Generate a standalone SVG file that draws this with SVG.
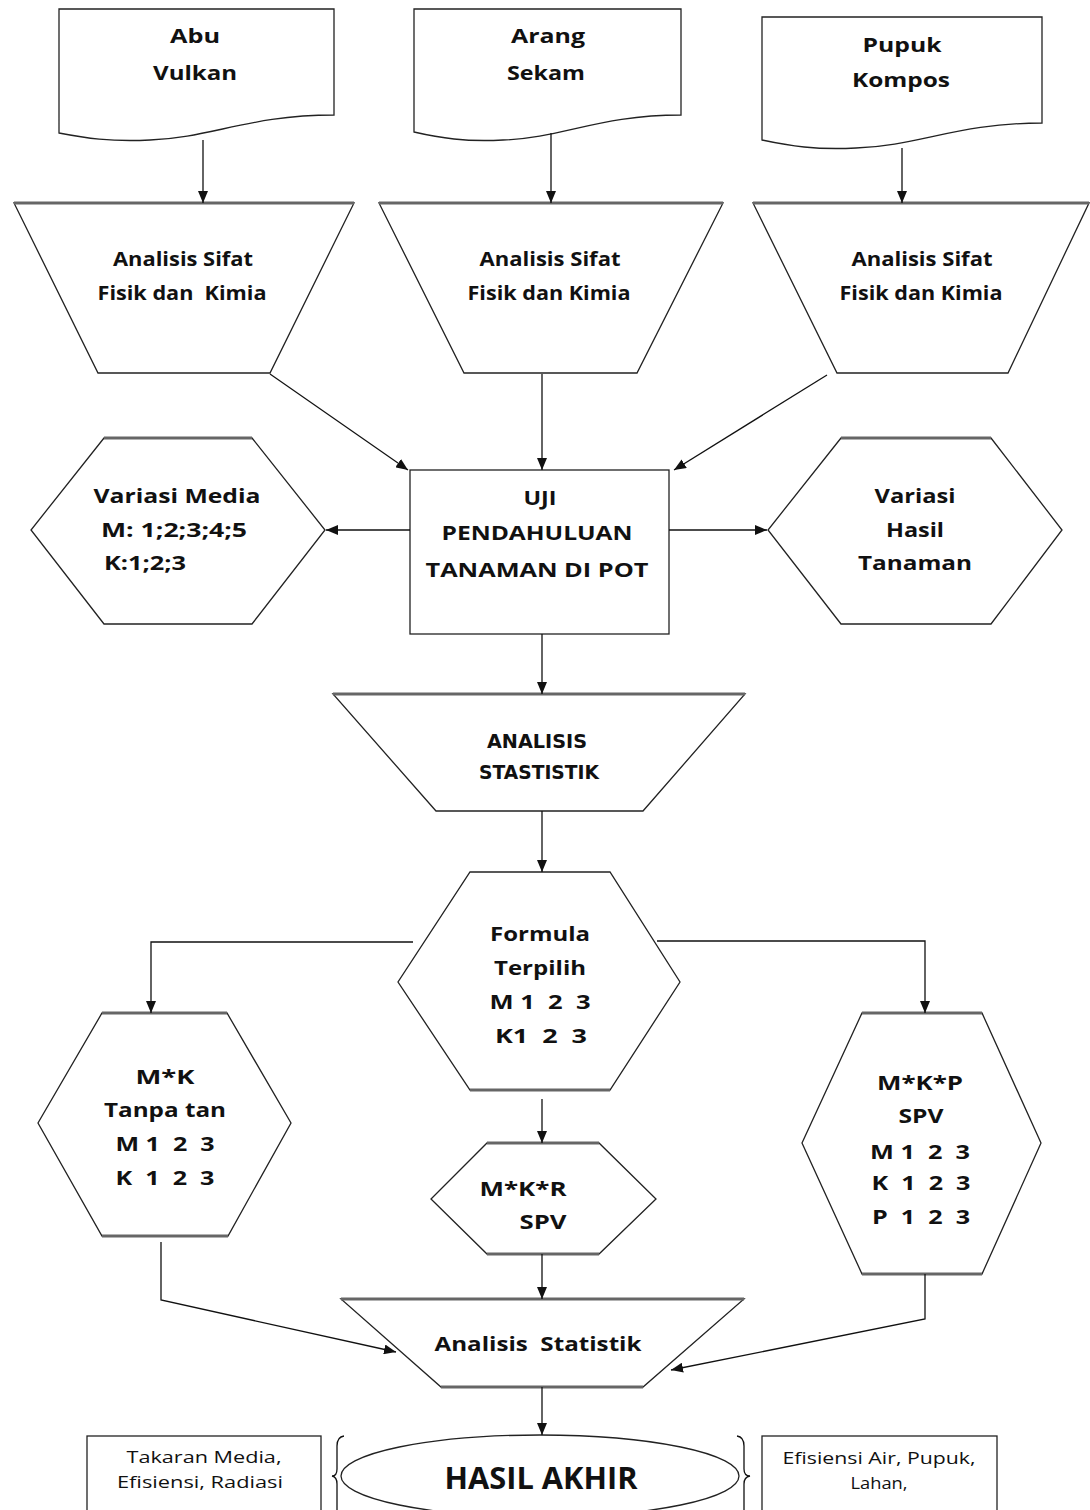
<svg xmlns="http://www.w3.org/2000/svg" width="1090" height="1510" viewBox="0 0 1090 1510">
<style>
.s{fill:#fff;stroke:#222;stroke-width:1.3}
.tp{fill:none;stroke:#666;stroke-width:3}
.t{font-family:"Open Sans","Liberation Sans",Arial,sans-serif;font-weight:700;font-size:20px;fill:#111;text-anchor:middle}
.ts{text-anchor:start}
.v{font-family:"DejaVu Sans","Verdana",sans-serif;font-weight:700;font-size:19px;fill:#111;text-anchor:middle}
.n{font-family:"Open Sans","Liberation Sans",Arial,sans-serif;font-weight:400;font-size:17px;fill:#111;text-anchor:middle}
.h{font-family:"Open Sans","Liberation Sans",Arial,sans-serif;font-weight:700;font-size:31px;fill:#111;text-anchor:middle}
.c{fill:none;stroke:#111;stroke-width:1.3}
</style>
<defs>
<marker id="ah" viewBox="0 0 12 10" refX="12" refY="5" markerWidth="12" markerHeight="10" markerUnits="userSpaceOnUse" orient="auto">
<path d="M0,0 L12,5 L0,10 Z" fill="#111"/>
</marker>
</defs>
<rect width="1090" height="1510" fill="#fff"/>

<g id="doc-abu">
<path class="s" d="M59,9 H334 V115 C250,115 210,138 150,140 C110,142 85,138 59,133 Z"/>
<text class="t" x="195" y="43" textLength="50" lengthAdjust="spacingAndGlyphs">Abu</text>
<text class="t" x="195" y="80" textLength="84" lengthAdjust="spacingAndGlyphs">Vulkan</text>
</g>
<g id="doc-arang">
<path class="s" d="M414,9 H681 V115 C600,115 562,138 503,140 C465,142 440,138 414,132 Z"/>
<text class="t" x="548" y="43" textLength="74" lengthAdjust="spacingAndGlyphs">Arang</text>
<text class="t" x="546" y="80" textLength="78" lengthAdjust="spacingAndGlyphs">Sekam</text>
</g>
<g id="doc-pupuk">
<path class="s" d="M762,17 H1042 V123 C958,123 918,146 856,148 C815,150 790,146 762,140 Z"/>
<text class="t" x="902" y="52" textLength="79" lengthAdjust="spacingAndGlyphs">Pupuk</text>
<text class="t" x="901" y="87" textLength="98" lengthAdjust="spacingAndGlyphs">Kompos</text>
</g>

<g id="trap-1">
<path class="s" d="M14,203 H354 L270,373 H98 Z"/>
<line class="tp" x1="14" y1="203" x2="354" y2="203"/>
<text class="t" x="183" y="266" textLength="140" lengthAdjust="spacingAndGlyphs">Analisis Sifat</text>
<text class="t" x="182" y="300" textLength="169" lengthAdjust="spacingAndGlyphs" xml:space="preserve">Fisik dan  Kimia</text>
</g>
<g id="trap-2">
<path class="s" d="M379,203 H723 L637,373 H464 Z"/>
<line class="tp" x1="379" y1="203" x2="723" y2="203"/>
<text class="t" x="550" y="266" textLength="141" lengthAdjust="spacingAndGlyphs">Analisis Sifat</text>
<text class="t" x="549" y="300" textLength="163" lengthAdjust="spacingAndGlyphs">Fisik dan Kimia</text>
</g>
<g id="trap-3">
<path class="s" d="M753,203 H1089 L1008,373 H837 Z"/>
<line class="tp" x1="753" y1="203" x2="1089" y2="203"/>
<text class="t" x="922" y="266" textLength="141" lengthAdjust="spacingAndGlyphs">Analisis Sifat</text>
<text class="t" x="921" y="300" textLength="163" lengthAdjust="spacingAndGlyphs">Fisik dan Kimia</text>
</g>

<g id="uji">
<rect class="s" x="410" y="470" width="259" height="164"/>
<text class="t" x="540" y="505" textLength="33" lengthAdjust="spacingAndGlyphs">UJI</text>
<text class="t" x="537" y="540" textLength="191" lengthAdjust="spacingAndGlyphs">PENDAHULUAN</text>
<text class="t" x="537" y="577" textLength="223" lengthAdjust="spacingAndGlyphs">TANAMAN DI POT</text>
</g>

<g id="hex-media">
<path class="s" d="M104,438 H252 L325,530 L252,624 H104 L31,530 Z"/>
<line class="tp" x1="104" y1="438" x2="252" y2="438"/>
<text class="t" x="177" y="503" textLength="167" lengthAdjust="spacingAndGlyphs">Variasi Media</text>
<text class="t ts" x="101" y="537" textLength="146" lengthAdjust="spacingAndGlyphs">M: 1;2;3;4;5</text>
<text class="t ts" x="104" y="570" textLength="82" lengthAdjust="spacingAndGlyphs">K:1;2;3</text>
</g>

<g id="hex-hasil">
<path class="s" d="M841,438 H991 L1062,530 L991,624 H841 L768,530 Z"/>
<line class="tp" x1="841" y1="438" x2="991" y2="438"/>
<text class="t" x="915" y="503" textLength="81" lengthAdjust="spacingAndGlyphs">Variasi</text>
<text class="t" x="915" y="537" textLength="58" lengthAdjust="spacingAndGlyphs">Hasil</text>
<text class="t" x="915" y="570" textLength="114" lengthAdjust="spacingAndGlyphs">Tanaman</text>
</g>

<g id="analisis-stastistik">
<path class="s" d="M333,694 H745 L643,811 H436 Z"/>
<line class="tp" x1="333" y1="694" x2="745" y2="694"/>
<text class="v" x="537" y="748" textLength="100" lengthAdjust="spacingAndGlyphs">ANALISIS</text>
<text class="v" x="539" y="779" textLength="120" lengthAdjust="spacingAndGlyphs">STASTISTIK</text>
</g>

<g id="formula">
<path class="s" d="M470,872 H610 L680,982 L610,1090 H470 L398,982 Z"/>
<line class="tp" x1="470" y1="1090" x2="610" y2="1090"/>
<text class="t" x="540" y="941" textLength="100" lengthAdjust="spacingAndGlyphs">Formula</text>
<text class="t" x="540" y="975" textLength="92" lengthAdjust="spacingAndGlyphs">Terpilih</text>
<text class="t" x="540" y="1009" textLength="101" lengthAdjust="spacingAndGlyphs" xml:space="preserve">M 1  2  3</text>
<text class="t" x="541" y="1043" textLength="92" lengthAdjust="spacingAndGlyphs" xml:space="preserve">K1  2  3</text>
</g>

<g id="hex-mk">
<path class="s" d="M102,1013 H227 L291,1123 L228,1236 H102 L38,1123 Z"/>
<line class="tp" x1="102" y1="1013" x2="227" y2="1013"/>
<line class="tp" x1="102" y1="1236" x2="228" y2="1236"/>
<text class="t" x="165" y="1084" textLength="59" lengthAdjust="spacingAndGlyphs">M*K</text>
<text class="t" x="165" y="1117" textLength="122" lengthAdjust="spacingAndGlyphs">Tanpa tan</text>
<text class="t" x="165" y="1151" textLength="99" lengthAdjust="spacingAndGlyphs" xml:space="preserve">M 1  2  3</text>
<text class="t" x="165" y="1185" textLength="99" lengthAdjust="spacingAndGlyphs" xml:space="preserve">K  1  2  3</text>
</g>

<g id="hex-mkr">
<path class="s" d="M487,1143 H599 L656,1199 L599,1254 H487 L431,1199 Z"/>
<line class="tp" x1="487" y1="1143" x2="599" y2="1143"/>
<line class="tp" x1="487" y1="1254" x2="599" y2="1254"/>
<text class="t" x="523" y="1196" textLength="87" lengthAdjust="spacingAndGlyphs">M*K*R</text>
<text class="t" x="543" y="1229" textLength="47" lengthAdjust="spacingAndGlyphs">SPV</text>
</g>

<g id="hex-mkp">
<path class="s" d="M862,1013 H982 L1041,1143 L982,1274 H862 L802,1143 Z"/>
<line class="tp" x1="862" y1="1013" x2="982" y2="1013"/>
<line class="tp" x1="862" y1="1274" x2="982" y2="1274"/>
<text class="t" x="920" y="1090" textLength="86" lengthAdjust="spacingAndGlyphs">M*K*P</text>
<text class="t" x="921" y="1123" textLength="45" lengthAdjust="spacingAndGlyphs">SPV</text>
<text class="t" x="920" y="1159" textLength="100" lengthAdjust="spacingAndGlyphs" xml:space="preserve">M 1  2  3</text>
<text class="t" x="921" y="1190" textLength="99" lengthAdjust="spacingAndGlyphs" xml:space="preserve">K  1  2  3</text>
<text class="t" x="921" y="1224" textLength="98" lengthAdjust="spacingAndGlyphs" xml:space="preserve">P  1  2  3</text>
</g>

<g id="analisis-statistik">
<path class="s" d="M341,1299 H744 L643,1387 H441 Z"/>
<line class="tp" x1="341" y1="1299" x2="744" y2="1299"/>
<line class="tp" x1="441" y1="1387" x2="643" y2="1387"/>
<text class="t" x="538" y="1351" textLength="207" lengthAdjust="spacingAndGlyphs" xml:space="preserve">Analisis  Statistik</text>
</g>

<g id="hasil-akhir">
<ellipse class="s" cx="540" cy="1476" rx="199" ry="41"/>
<text class="h" x="541" y="1489" textLength="193" lengthAdjust="spacingAndGlyphs">HASIL AKHIR</text>
</g>

<g id="note-left">
<rect class="s" x="87" y="1436" width="234" height="90"/>
<path class="c" d="M344,1436 Q337,1437 337,1446 V1469 Q337,1476 332,1476 Q337,1477 337,1484 V1515"/>
<text class="n" x="204" y="1463" textLength="155" lengthAdjust="spacingAndGlyphs">Takaran Media,</text>
<text class="n" x="200" y="1488" textLength="166" lengthAdjust="spacingAndGlyphs">Efisiensi, Radiasi</text>
</g>

<g id="note-right">
<rect class="s" x="762" y="1436" width="235" height="90"/>
<path class="c" d="M737,1436 Q744,1437 744,1446 V1469 Q744,1476 750,1476 Q744,1477 744,1484 V1515"/>
<text class="n" x="879" y="1464" textLength="193" lengthAdjust="spacingAndGlyphs">Efisiensi Air, Pupuk,</text>
<text class="n" x="879" y="1489" textLength="57" lengthAdjust="spacingAndGlyphs">Lahan,</text>
</g>

<g id="connectors" class="c" marker-end="url(#ah)">
<line x1="203" y1="140" x2="203" y2="203"/>
<line x1="551" y1="133" x2="551" y2="203"/>
<line x1="902" y1="148" x2="902" y2="203"/>
<line x1="270" y1="374" x2="408" y2="470"/>
<line x1="542" y1="374" x2="542" y2="470"/>
<line x1="827" y1="375" x2="674" y2="470"/>
<line x1="410" y1="530" x2="326" y2="530"/>
<line x1="669" y1="530" x2="767" y2="530"/>
<line x1="542" y1="634" x2="542" y2="694"/>
<line x1="542" y1="811" x2="542" y2="872"/>
<polyline points="413,942 151,942 151,1013"/>
<polyline points="657,941 925,941 925,1013"/>
<line x1="542" y1="1099" x2="542" y2="1143"/>
<line x1="542" y1="1254" x2="542" y2="1299"/>
<polyline points="161,1242 161,1300 396,1352"/>
<polyline points="925,1274 925,1319 671,1370"/>
<line x1="542" y1="1387" x2="542" y2="1435"/>
</g>
</svg>
